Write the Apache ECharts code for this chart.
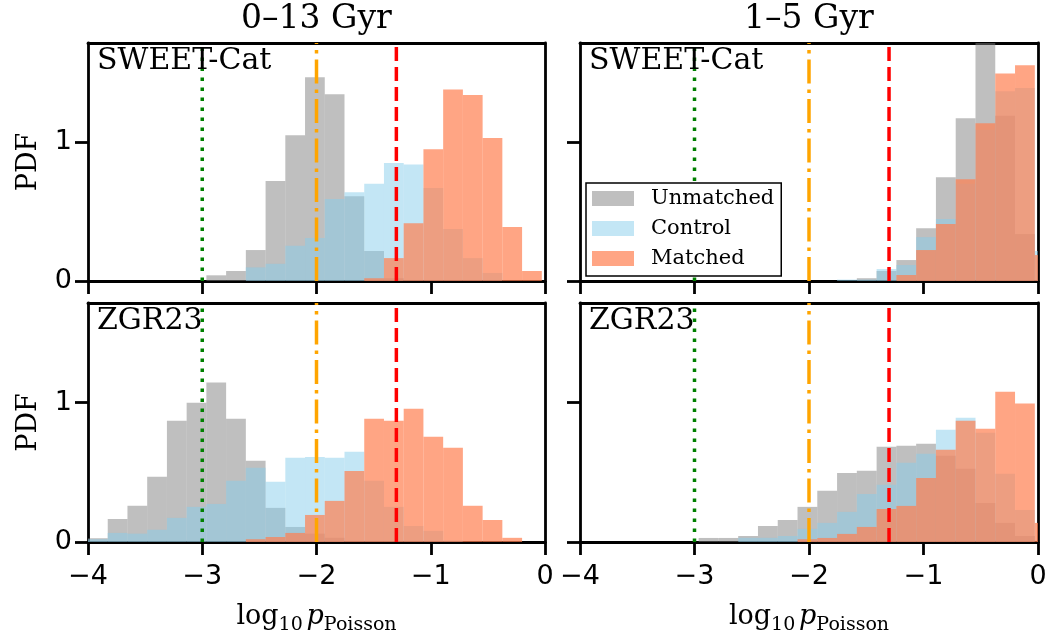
<!DOCTYPE html>
<html><head><meta charset="utf-8">
<script src="https://cdn.jsdelivr.net/npm/echarts@6/dist/echarts.min.js"></script>
<style>html,body{margin:0;padding:0;background:#fff}#c{width:1049px;height:638px}</style>
</head><body><div id="c"></div>
<script>
// ---- data ----
const BIN_START = -4;
const BIN_WIDTH = 0.1727;
const X_MIN = -4, X_MAX = 0;
const Y_MAX = 1.715;
const Y_TICKS = [0, 1];
const THRESHOLDS = [-3, -2, -1.301];
const COLUMN_TITLES = ['0–13 Gyr', '1–5 Gyr'];
const ROW_LABELS = ['SWEET-Cat', 'ZGR23'];
const SERIES_NAMES = ['Unmatched', 'Control', 'Matched'];

// SWEET-Cat, 0–13 Gyr
const sweetAllUnmatched = [0,0,0,0,0,0,0.041,0.072,0.223,0.72,1.05,1.468,1.345,0.61,0.216,0.02,0,0,0,0,0,0,0,0];
const sweetAllControl   = [0,0,0,0,0,0,0,0,0.098,0.124,0.254,0.31,0.59,0.64,0.70,0.85,0.84,0.67,0.374,0.165,0.058,0,0,0];
const sweetAllMatched   = [0,0,0,0,0,0,0,0,0,0,0,0,0,0,0.02,0.165,0.417,0.95,1.38,1.34,1.03,0.39,0.072,0];
// ZGR23, 0–13 Gyr
const zgrAllUnmatched = [0.027,0.165,0.26,0.468,0.87,1.0,1.144,0.885,0.583,0.245,0.108,0.06,0.03,0,0,0,0,0,0,0,0,0,0,0];
const zgrAllControl   = [0.02,0.065,0.06,0.088,0.173,0.252,0.273,0.44,0.532,0.432,0.604,0.61,0.604,0.647,0.44,0.252,0.115,0.08,0.01,0,0,0,0,0];
const zgrAllMatched   = [0,0,0,0,0,0,0,0,0.02,0.036,0.065,0.194,0.295,0.51,0.885,0.87,0.957,0.755,0.676,0.26,0.158,0.03,0,0];
// SWEET-Cat, 1–5 Gyr
const sweetYoungUnmatched = [0,0,0,0,0,0,0,0,0,0,0,0,0,0,0.02,0.072,0.151,0.38,0.748,1.173,1.8,1.19,0.338,0];
const sweetYoungControl   = [0,0,0,0,0,0,0,0,0,0,0,0,0,0.01,0.01,0.086,0.115,0.316,0.446,0.7,1.09,1.367,1.39,0.216];
const sweetYoungMatched   = [0,0,0,0,0,0,0,0,0,0,0,0,0,0,0,0,0.043,0.223,0.41,0.734,1.137,1.496,1.554,0.187];
// ZGR23, 1–5 Gyr
const zgrYoungUnmatched = [0,0,0,0,0,0,0.029,0.029,0.043,0.115,0.158,0.252,0.367,0.496,0.511,0.683,0.69,0.705,0.619,0.525,0.28,0.137,0.043,0];
const zgrYoungControl   = [0,0,0,0,0,0,0,0,0.03,0.03,0.043,0.094,0.137,0.216,0.345,0.41,0.568,0.633,0.806,0.892,0.784,0.489,0.23,0];
const zgrYoungMatched   = [0,0,0,0,0,0,0,0,0,0,0,0.02,0.029,0.058,0.108,0.237,0.259,0.46,0.662,0.87,0.813,1.079,0.993,0.137];

// ---- styling / layout ----
const COLORS = ['rgba(128,128,128,0.5)', 'rgba(135,206,235,0.5)', 'rgba(255,127,80,0.7)'];
const LINE_STYLES = [
  {color: '#008000', width: 3.5, type: [3.5, 6.5]},
  {color: '#FFA500', width: 3.5, type: [24, 6, 3.5, 6]},
  {color: '#FF0000', width: 3.5, type: [14, 6]}
];
const panels = [
  {grid: {left: 88, top: 43, width: 457, height: 238}, data: [sweetAllUnmatched, sweetAllControl, sweetAllMatched], row: 0, col: 0},
  {grid: {left: 580, top: 43, width: 458, height: 238}, data: [sweetYoungUnmatched, sweetYoungControl, sweetYoungMatched], row: 0, col: 1},
  {grid: {left: 88, top: 303, width: 457, height: 239}, data: [zgrAllUnmatched, zgrAllControl, zgrAllMatched], row: 1, col: 0},
  {grid: {left: 580, top: 303, width: 458, height: 239}, data: [zgrYoungUnmatched, zgrYoungControl, zgrYoungMatched], row: 1, col: 1}
];

const SERIF = 'DejaVu Serif';
const SANS = 'DejaVu Sans';
const minus = v => (v < 0 ? '\u2212' + Math.abs(v) : String(v));

function renderBar(params, api) {
  const x0 = api.value(0), x1 = api.value(1), h = api.value(2);
  if (!(h > 0)) return null;
  const p0 = api.coord([x0, h]);
  const p1 = api.coord([x1, 0]);
  const cs = params.coordSys;
  const shape = echarts.graphic.clipRectByRect(
    {x: p0[0], y: p0[1], width: p1[0] - p0[0], height: p1[1] - p0[1]},
    {x: cs.x, y: cs.y, width: cs.width, height: cs.height});
  return shape && {type: 'rect', shape: shape, style: {fill: api.visual('color')}};
}

const grids = [], xAxes = [], yAxes = [], series = [], graphics = [];
const frameLine = {show: true, lineStyle: {color: '#000', width: 2.8}};
panels.forEach((p, g) => {
  grids.push(Object.assign({show: false, containLabel: false, outerBoundsMode: 'none'}, p.grid));
  const isBottom = p.row === 1, isLeft = p.col === 0;
  // bottom x axis
  xAxes.push({
    type: 'value', gridIndex: g, position: 'bottom', min: X_MIN, max: X_MAX, interval: 1,
    axisLine: Object.assign({onZero: false}, frameLine),
    axisTick: {show: true, inside: false, length: 13, lineStyle: {color: '#000', width: 2.8}},
    axisLabel: {show: isBottom, formatter: minus, fontFamily: SANS, fontSize: 27, color: '#000', margin: 21},
    splitLine: {show: false},
    name: isBottom ? '{m|log}{s|10}{sp| }{i|p}{s|Poisson}' : '',
    nameLocation: 'middle', nameGap: 61,
    nameTextStyle: {rich: {
      m: {fontFamily: SERIF, fontSize: 27, color: '#000', verticalAlign: 'bottom', padding: [0, 0, 5, 0]},
      i: {fontFamily: SERIF, fontStyle: 'italic', fontSize: 27, color: '#000', verticalAlign: 'bottom', padding: [0, 0, 5, 0]},
      s: {fontFamily: SERIF, fontSize: 19, color: '#000', verticalAlign: 'bottom'},
      sp: {fontFamily: SERIF, fontSize: 12, color: '#000', verticalAlign: 'bottom'}
    }}
  });
  // top x axis (frame only)
  xAxes.push({
    type: 'value', gridIndex: g, position: 'top', min: X_MIN, max: X_MAX,
    axisLine: Object.assign({onZero: false}, frameLine), axisTick: {show: false},
    axisLabel: {show: false}, splitLine: {show: false}
  });
  // left y axis
  yAxes.push({
    type: 'value', gridIndex: g, position: 'left', min: 0, max: Y_MAX,
    axisLine: Object.assign({onZero: false}, frameLine),
    axisTick: {show: true, inside: false, length: 13, customValues: Y_TICKS, lineStyle: {color: '#000', width: 2.8}},
    axisLabel: {show: isLeft, customValues: Y_TICKS, fontFamily: SANS, fontSize: 27, color: '#000', margin: 16},
    splitLine: {show: false},
    name: isLeft ? 'PDF' : '', nameLocation: 'middle', nameGap: 46, nameRotate: 90,
    nameTextStyle: {fontFamily: SERIF, fontSize: 27, color: '#000'}
  });
  // right y axis (frame only)
  yAxes.push({
    type: 'value', gridIndex: g, position: 'right', min: 0, max: Y_MAX,
    axisLine: Object.assign({onZero: false}, frameLine), axisTick: {show: false},
    axisLabel: {show: false}, splitLine: {show: false}
  });

  p.data.forEach((vals, si) => {
    series.push({
      type: 'custom', name: SERIES_NAMES[si], coordinateSystem: 'cartesian2d',
      xAxisIndex: 2 * g, yAxisIndex: 2 * g, z: 2 + si,
      itemStyle: {color: COLORS[si]},
      encode: {x: [0, 1], y: 2},
      renderItem: renderBar,
      data: vals.map((v, k) => [BIN_START + k * BIN_WIDTH, BIN_START + (k + 1) * BIN_WIDTH, v]),
      silent: true, animation: false
    });
  });
  THRESHOLDS.forEach((t, li) => {
    series.push({
      type: 'line', xAxisIndex: 2 * g, yAxisIndex: 2 * g, z: 6,
      data: [[t, 0], [t, Y_MAX]], symbol: 'none', silent: true, animation: false,
      lineStyle: Object.assign({cap: 'butt'}, LINE_STYLES[li])
    });
  });

  graphics.push({
    type: 'text', left: p.grid.left + 9, top: p.grid.top + 3, z: 10,
    style: {text: ROW_LABELS[p.row], font: '30px "DejaVu Serif"', fill: '#000'}
  });
  if (p.row === 0) {
    graphics.push({
      type: 'text', x: p.grid.left + p.grid.width / 2, y: 19, z: 10,
      style: {text: COLUMN_TITLES[p.col], font: '33px "DejaVu Serif"', fill: '#000', textAlign: 'center', textVerticalAlign: 'middle'}
    });
  }
});

const chart = echarts.init(document.getElementById('c'), null, {renderer: 'canvas'});
chart.setOption({
  animation: false,
  backgroundColor: '#fff',
  grid: grids, xAxis: xAxes, yAxis: yAxes, series: series,
  legend: {
    data: SERIES_NAMES, orient: 'vertical', left: 586, top: 183, icon: 'rect',
    itemWidth: 42, itemHeight: 15, itemGap: 9, selectedMode: false,
    textStyle: {fontFamily: SERIF, fontSize: 21, lineHeight: 21, color: '#000', padding: [0, 0, 0, 12]},
    backgroundColor: '#fff', borderColor: '#000', borderWidth: 1.5, borderRadius: 0,
    padding: [5, 7, 7, 6], z: 20
  },
  graphic: graphics
});
</script></body></html>
